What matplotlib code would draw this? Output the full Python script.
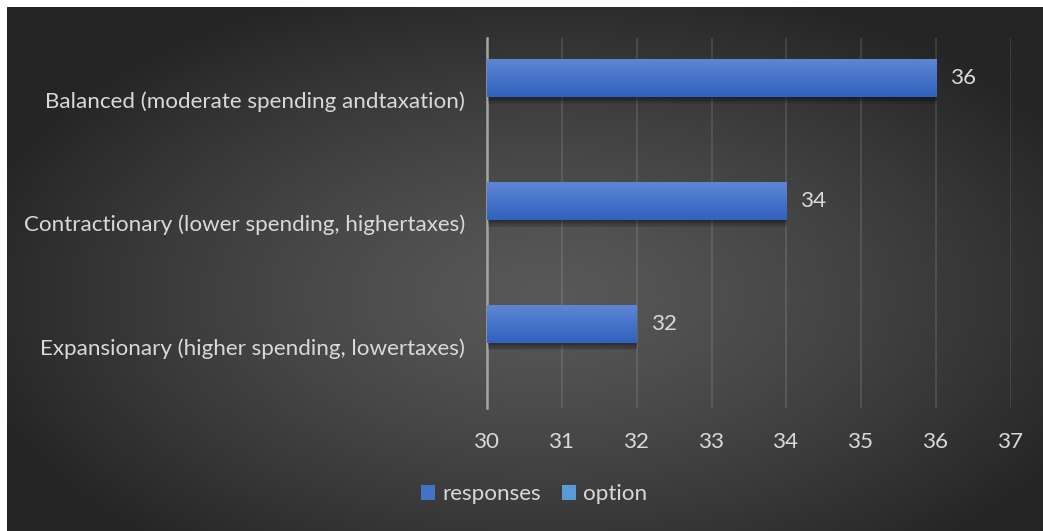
import numpy as np
import matplotlib
matplotlib.use("Agg")
import matplotlib.pyplot as plt
from matplotlib.patches import Patch
import matplotlib.patheffects as pe

categories = ["Expansionary (higher spending, lowertaxes)",
              "Contractionary (lower spending, highertaxes)",
              "Balanced (moderate spending andtaxation)"]
responses = [32, 34, 36]
option = [np.nan, np.nan, np.nan]  # empty second series (legend only)
xticks = [30, 31, 32, 33, 34, 35, 36, 37]
legend_labels = ["responses", "option"]

plt.rcParams['font.family'] = ['Lato', 'DejaVu Sans']
TXT = '#d9d9d9'
FS = 16.1

fig = plt.figure(figsize=(10.43, 5.31), dpi=100)
fig.patch.set_facecolor('white')

# background panel with radial gradient
W, H = 1043, 531
bg = fig.add_axes([7 / W, 0, (W - 7) / W, (H - 7) / H])
yy, xx = np.mgrid[0:200, 0:400]
cx, cy = 400 * 0.52, 200 * 0.55
r = np.sqrt(((xx - cx) / 230) ** 2 + ((yy - cy) / 125) ** 2)
r = np.clip(r, 0, 1)
c0, c1 = 0x58 / 255, 0x25 / 255
v = c0 + (c1 - c0) * r ** 1.3
img = np.dstack([v, v, v])
bg.imshow(img, aspect='auto', extent=[0, 1, 0, 1], interpolation='bicubic')
bg.set_axis_off()

ax = fig.add_axes([487 / W, 123 / H, (1011 - 487) / W, (493 - 123) / H])
ax.patch.set_alpha(0)
y = np.arange(len(categories))
BH = 0.31
OFF = 0.178
shadow = [pe.SimplePatchShadow(offset=(0.5, -k), shadow_rgbFace='black', alpha=0.09) for k in (1, 2, 3, 4, 5)]
bars = ax.barh(y + OFF, [r - 30 for r in responses], left=30, height=BH,
               color='#4472c4', zorder=3, path_effects=shadow + [pe.Normal()])
ax.barh(y + OFF - BH, [0 if np.isnan(o) else o - 30 for o in option], left=30, height=BH,
        color='#5b9bd5', zorder=3)
# gradient fill on bars
grad = np.linspace(0, 1, 50).reshape(-1, 1)
top = np.array([0x5f, 0x86, 0xd3]) / 255
bot = np.array([0x30, 0x62, 0xbf]) / 255
gimg = (top[None, None, :] * (1 - grad[:, :, None]) + bot[None, None, :] * grad[:, :, None])
for b in bars:
    x0, y0 = b.get_x(), b.get_y()
    w, h = b.get_width(), b.get_height()
    im = ax.imshow(gimg, extent=[x0, x0 + w, y0, y0 + h], aspect='auto', zorder=4,
                   origin='upper')
    im.set_clip_path(b)

for yi, val in zip(y, responses):
    ax.text(val + 0.2, yi + OFF, str(val), va='center', ha='left', color=TXT, fontsize=FS)

ax.set_xlim(30, 37.0)
ax.set_ylim(-0.5, 2.5)
ax.set_xticks(xticks)
ax.set_xticklabels([str(t) for t in xticks], color=TXT, fontsize=FS)
ax.set_yticks(y)
ax.set_yticklabels(categories, color=TXT, fontsize=FS)
ax.tick_params(axis='x', length=0, pad=17)
ax.tick_params(axis='y', length=0, pad=16)
ax.grid(axis='x', color='#ffffff', alpha=0.13, linewidth=1.2, zorder=0)
for s in ['top', 'right', 'bottom']:
    ax.spines[s].set_visible(False)
ax.spines['left'].set_color('#a6a6a6')
ax.spines['left'].set_linewidth(1.8)
ax.spines['left'].set_zorder(2)

handles = [Patch(facecolor='#4472c4'), Patch(facecolor='#5b9bd5')]
fig.legend(handles, legend_labels, loc='center', bbox_to_anchor=(534 / W, (H - 494) / H),
           ncol=2, frameon=False, fontsize=FS, labelcolor=TXT,
           handlelength=0.65, handleheight=0.65, handletextpad=0.3, columnspacing=0.95)

fig.savefig('out.png', dpi=100, facecolor=fig.get_facecolor())
